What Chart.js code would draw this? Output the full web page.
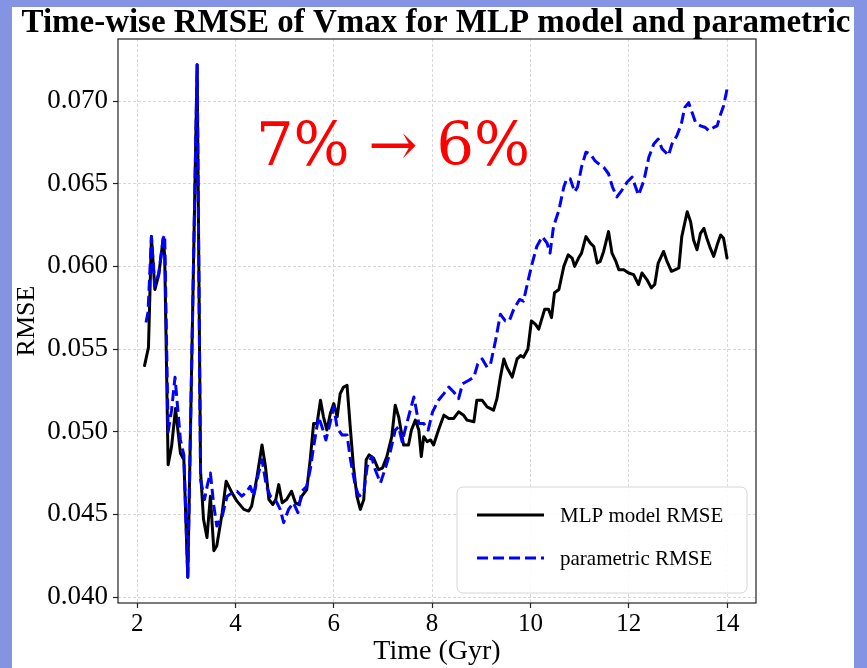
<!DOCTYPE html>
<html>
<head>
<meta charset="utf-8">
<title>Time-wise RMSE of Vmax</title>
<script src="https://cdn.jsdelivr.net/npm/chart.js@4.4.1/dist/chart.umd.min.js"></script>
<style>
  html, body { margin:0; padding:0; }
  body { width:867px; height:668px; background:#8594e2; overflow:hidden; position:relative; }
  #panel { position:absolute; left:12px; top:7px; width:842px; height:661px; background:#fff; }
  #panel canvas { display:block; }
</style>
</head>
<body>
<div id="panel"><canvas id="rmseChart" width="842" height="661"></canvas></div>
<script>
const TITLE = 'Time-wise RMSE of Vmax for MLP model and parametric';
const NOTE = '7% \u2192 6%';

const X_TICKS = [2, 4, 6, 8, 10, 12, 14];
const Y_TICKS = [0.040, 0.045, 0.050, 0.055, 0.060, 0.065, 0.070];

// MLP model RMSE per snapshot time (Gyr)
const MLP_TIME = [2.15,2.23,2.29,2.36,2.44,2.53,2.56,2.63,2.70,2.78,2.88,2.95,3.03,3.22,3.29,3.35,3.42,3.49,3.56,3.62,
  3.73,3.81,3.93,4.03,4.17,4.27,4.33,4.44,4.54,4.61,4.68,4.76,4.82,4.88,4.95,5.04,5.14,5.22,5.29,5.35,
  5.45,5.52,5.59,5.66,5.73,5.79,5.86,5.93,6.00,6.07,6.13,6.20,6.27,6.34,6.40,6.47,6.54,6.61,6.66,6.72,
  6.81,6.91,6.99,7.08,7.18,7.25,7.32,7.42,7.52,7.58,7.66,7.73,7.78,7.83,7.90,7.97,8.03,8.13,8.24,8.34,
  8.44,8.54,8.64,8.71,8.85,8.91,9.02,9.12,9.25,9.32,9.39,9.46,9.52,9.63,9.73,9.80,9.86,9.95,10.02,10.10,
  10.17,10.29,10.37,10.43,10.49,10.58,10.68,10.77,10.85,10.90,10.98,11.04,11.13,11.22,11.29,11.36,11.42,11.49,11.59,11.66,
  11.74,11.80,11.90,12.00,12.10,12.20,12.27,12.37,12.46,12.53,12.60,12.71,12.78,12.87,12.95,13.02,13.08,13.19,13.26,13.32,
  13.39,13.46,13.53,13.59,13.66,13.73,13.80,13.87,13.93,14.00];
const MLP_RMSE = [0.0540,0.0551,0.0618,0.0586,0.0595,0.0617,0.0606,0.0480,0.0491,0.0514,0.0487,0.0483,0.0412,0.0722,0.0476,0.0447,0.0436,0.0461,0.0428,0.0431,
  0.0451,0.0470,0.0463,0.0458,0.0453,0.0452,0.0455,0.0473,0.0492,0.0479,0.0459,0.0456,0.0459,0.0468,0.0457,0.0459,0.0464,0.0457,0.0456,0.0461,
  0.0465,0.0483,0.0505,0.0505,0.0519,0.0509,0.0501,0.0511,0.0517,0.0509,0.0523,0.0527,0.0528,0.0501,0.0479,0.0461,0.0453,0.0459,0.0483,0.0486,
  0.0484,0.0477,0.0478,0.0485,0.0497,0.0516,0.0509,0.0492,0.0492,0.0501,0.0507,0.0501,0.0485,0.0497,0.0494,0.0495,0.0492,0.0501,0.0510,0.0508,
  0.0508,0.0512,0.0510,0.0507,0.0506,0.0519,0.0519,0.0515,0.0513,0.0520,0.0533,0.0544,0.0539,0.0533,0.0544,0.0546,0.0545,0.0550,0.0567,0.0565,
  0.0562,0.0574,0.0574,0.0569,0.0584,0.0586,0.0600,0.0607,0.0605,0.0600,0.0605,0.0608,0.0618,0.0614,0.0612,0.0602,0.0603,0.0609,0.0621,0.0608,
  0.0603,0.0598,0.0598,0.0596,0.0595,0.0589,0.0596,0.0592,0.0587,0.0589,0.0602,0.0609,0.0603,0.0597,0.0598,0.0599,0.0618,0.0633,0.0627,0.0616,
  0.0610,0.0620,0.0623,0.0617,0.0611,0.0606,0.0613,0.0619,0.0617,0.0605];

// parametric RMSE per snapshot time (Gyr)
const PARAM_TIME = [2.18,2.22,2.29,2.36,2.44,2.53,2.56,2.63,2.70,2.77,2.88,2.95,3.03,3.22,3.29,3.37,3.43,3.49,3.56,3.62,
  3.73,3.83,3.93,4.03,4.13,4.21,4.30,4.37,4.47,4.54,4.63,4.71,4.81,4.91,4.98,5.08,5.18,5.27,5.35,5.45,
  5.52,5.59,5.69,5.76,5.84,5.93,6.00,6.07,6.17,6.27,6.34,6.44,6.51,6.61,6.68,6.77,6.83,6.95,7.05,7.15,
  7.25,7.32,7.39,7.52,7.63,7.73,7.83,7.92,8.01,8.13,8.24,8.34,8.44,8.54,8.62,8.74,8.85,8.93,9.02,9.12,
  9.19,9.29,9.39,9.49,9.57,9.66,9.78,9.86,9.95,10.03,10.13,10.24,10.34,10.40,10.47,10.58,10.68,10.74,10.81,10.90,
  10.96,11.04,11.13,11.22,11.31,11.39,11.49,11.59,11.67,11.76,11.86,11.97,12.07,12.14,12.20,12.31,12.41,12.51,12.60,12.68,
  12.75,12.81,12.88,12.98,13.07,13.14,13.22,13.29,13.36,13.46,13.56,13.63,13.73,13.80,13.87,13.93,14.00];
const PARAM_RMSE = [0.0566,0.0572,0.0618,0.0588,0.0596,0.0617,0.0619,0.0500,0.0513,0.0533,0.0495,0.0486,0.0412,0.0722,0.0471,0.0459,0.0468,0.0475,0.0455,0.0443,
  0.0449,0.0461,0.0463,0.0464,0.0461,0.0463,0.0467,0.0461,0.0475,0.0483,0.0467,0.0461,0.0459,0.0453,0.0445,0.0453,0.0457,0.0451,0.0464,0.0467,
  0.0477,0.0491,0.0509,0.0503,0.0495,0.0506,0.0515,0.0502,0.0498,0.0498,0.0483,0.0467,0.0461,0.0463,0.0479,0.0485,0.0478,0.0469,0.0478,0.0488,
  0.0501,0.0503,0.0494,0.0509,0.0521,0.0505,0.0505,0.0501,0.0512,0.0519,0.0523,0.0527,0.0524,0.0520,0.0529,0.0531,0.0533,0.0541,0.0544,0.0539,
  0.0541,0.0555,0.0571,0.0567,0.0567,0.0574,0.0580,0.0579,0.0591,0.0601,0.0612,0.0618,0.0614,0.0608,0.0624,0.0634,0.0648,0.0653,0.0653,0.0645,
  0.0648,0.0660,0.0669,0.0668,0.0664,0.0662,0.0660,0.0656,0.0648,0.0642,0.0646,0.0651,0.0654,0.0648,0.0643,0.0652,0.0666,0.0674,0.0677,0.0671,
  0.0669,0.0667,0.0674,0.0679,0.0686,0.0696,0.0699,0.0693,0.0687,0.0685,0.0684,0.0682,0.0684,0.0685,0.0692,0.0697,0.0707];

const SERIF = '"Liberation Serif", "Times New Roman", serif';
const toPoints = (xs, ys) => xs.map((x, i) => ({x, y: ys[i]}));

// bold heading across the full panel width (the axes leave room at the right)
const heading = {
  id: 'heading',
  afterDraw(chart){
    const {ctx} = chart;
    ctx.save();
    ctx.font = 'bold 33px ' + SERIF;
    const w = ctx.measureText(TITLE).width;
    ctx.translate(424, 16);
    ctx.scale(829 / w, 1);
    ctx.fillStyle = '#000';
    ctx.textAlign = 'center';
    ctx.textBaseline = 'middle';
    ctx.fillText(TITLE, 0, 0);
    ctx.restore();
  }
};

// box around the plot area, drawn over the lines like mpl spines
const frame = {
  id: 'frame',
  afterDatasetsDraw(chart){
    const {ctx, chartArea: a} = chart;
    ctx.save();
    ctx.strokeStyle = '#222';
    ctx.lineWidth = 1.2;
    ctx.strokeRect(a.left, a.top, a.right - a.left, a.bottom - a.top);
    ctx.restore();
  }
};

// legend sitting inside the lower right of the axes
const insideLegend = {
  id: 'insideLegend',
  afterDraw(chart){
    const {ctx} = chart;
    const x = 445, y = 480, w = 290, h = 106, r = 6;
    ctx.save();
    ctx.beginPath();
    ctx.roundRect(x, y, w, h, r);
    ctx.fillStyle = 'rgba(255,255,255,0.85)';
    ctx.fill();
    ctx.strokeStyle = '#d6d6d6';
    ctx.lineWidth = 1;
    ctx.stroke();
    const entries = [chart.data.datasets[1], chart.data.datasets[0]];
    entries.forEach((ds, i) => {
      const ly = 508 + i * 43;
      ctx.beginPath();
      ctx.setLineDash(ds.borderDash || []);
      ctx.lineCap = 'butt';
      ctx.strokeStyle = ds.borderColor;
      ctx.lineWidth = ds.borderWidth;
      ctx.moveTo(465, ly);
      ctx.lineTo(532, ly);
      ctx.stroke();
      ctx.setLineDash([]);
      ctx.fillStyle = '#000';
      ctx.font = '21px ' + SERIF;
      ctx.textBaseline = 'middle';
      ctx.fillText(ds.label, 548, ly + 1);
    });
    ctx.restore();
  }
};

// red percentage note in the upper middle of the plot
const note = {
  id: 'note',
  afterDraw(chart){
    const {ctx} = chart;
    ctx.save();
    ctx.fillStyle = '#ff0000';
    ctx.font = '59px "DejaVu Serif", serif';
    ctx.textBaseline = 'alphabetic';
    ctx.fillText(NOTE, 244, 158);
    ctx.restore();
  }
};

new Chart(document.getElementById('rmseChart'), {
  type: 'line',
  data: {
    datasets: [
      { label:'parametric RMSE', data: toPoints(PARAM_TIME, PARAM_RMSE), borderColor:'#0000ff', borderWidth:3,
        borderDash:[11, 5], borderCapStyle:'butt', borderJoinStyle:'round', pointRadius:0, tension:0, order:0 },
      { label:'MLP model RMSE', data: toPoints(MLP_TIME, MLP_RMSE), borderColor:'#000000', borderWidth:3,
        borderJoinStyle:'round', borderCapStyle:'round', pointRadius:0, tension:0, order:1 },
    ]
  },
  options: {
    responsive:false, devicePixelRatio:1, animation:false,
    layout:{ padding:{ left:0, right:98, top:32, bottom:0 } },
    plugins:{
      legend:{ display:false },
      tooltip:{ enabled:false },
      title:{ display:false },
    },
    scales:{
      x:{
        type:'linear', min:1.61, max:14.59,
        afterBuildTicks: s => { s.ticks = X_TICKS.map(v => ({value:v})); },
        afterFit: s => { s.height = 65; },
        ticks:{ color:'#000', padding:1, font:{ family:SERIF, size:25 }, callback: v => String(v), maxRotation:0 },
        grid:{ color:'#cfcfcf', lineWidth:0.8, drawTicks:true, tickLength:5, tickColor:'#222', tickWidth:1.2, tickBorderDash:[] },
        border:{ display:false, dash:[3, 2] },
        title:{ display:true, text:'Time (Gyr)', color:'#000', padding:0, font:{ family:SERIF, size:28, lineHeight:1.15 } },
      },
      y:{
        type:'linear', min:0.03964, max:0.07375,
        afterBuildTicks: s => { s.ticks = Y_TICKS.map(v => ({value:v})); },
        afterFit: s => { s.width = 106; },
        ticks:{ color:'#000', padding:5, font:{ family:SERIF, size:27 }, callback: v => v.toFixed(3) },
        grid:{ color:'#cfcfcf', lineWidth:0.8, drawTicks:true, tickLength:5, tickColor:'#222', tickWidth:1.2, tickBorderDash:[] },
        border:{ display:false, dash:[3, 2] },
        title:{ display:true, text:'RMSE', color:'#000', padding:0, font:{ family:SERIF, size:26, lineHeight:1.2 } },
      }
    }
  },
  plugins:[heading, frame, insideLegend, note]
});
</script>
</body>
</html>
